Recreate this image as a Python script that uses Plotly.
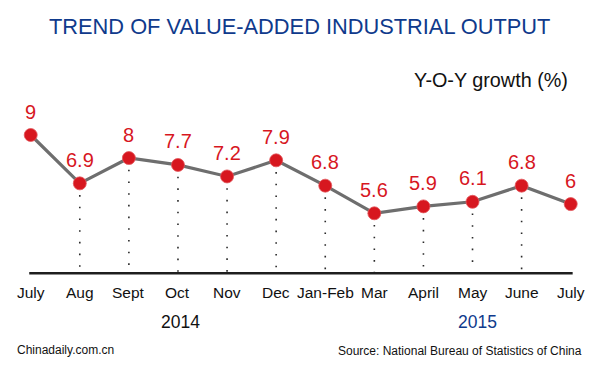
import plotly.graph_objects as go

months = ["July", "Aug", "Sept", "Oct", "Nov", "Dec", "Jan-Feb", "Mar", "April", "May", "June", "July"]
growth = [9, 6.9, 8, 7.7, 7.2, 7.9, 6.8, 5.6, 5.9, 6.1, 6.8, 6]
value_labels = ["9", "6.9", "8", "7.7", "7.2", "7.9", "6.8", "5.6", "5.9", "6.1", "6.8", "6"]
year_labels = ["2014", "2015"]
year_centers = [3.05, 9.1]
base_value = 3

# the page body has an 8px default margin: the figure starts at (8, 8) in the window
OFF = 8
W, H = 600 - OFF, 365 - OFF
FONT = "Arial, 'Liberation Sans', Helvetica, sans-serif"
RED = "#d7171f"
BLUE = "#0f3a8c"


def px_x(p):
    return (p - OFF) / W


def px_y(p):
    return 1 - (p - OFF) / H


idx = list(range(len(months)))

fig = go.Figure()

# dotted drop lines (interior points only)
dx, dy = [], []
for i in idx[1:-1]:
    dx += [i, i, None]
    dy += [growth[i], base_value, None]
fig.add_trace(go.Scatter(x=dx, y=dy, mode="lines",
                         line=dict(color="#2a2a2a", width=1.6, dash="1.6px,10.1px"),
                         hoverinfo="skip", showlegend=False))

# main line
fig.add_trace(go.Scatter(x=idx, y=growth, mode="lines",
                         line=dict(color="#6e6e6e", width=3.2),
                         hoverinfo="skip", showlegend=False))
# markers
fig.add_trace(go.Scatter(x=idx, y=growth, mode="markers",
                         marker=dict(color=RED, size=13, line=dict(color="#e2575c", width=0.8)),
                         showlegend=False))

# baseline
fig.add_shape(type="line", x0=idx[0] - 0.03, x1=idx[-1] + 0.04, y0=base_value, y1=base_value,
              xref="x", yref="y", line=dict(color="#1e1e1e", width=2.6))

annotations = []
for i, lab in zip(idx, value_labels):
    annotations.append(dict(x=i, y=growth[i], xref="x", yref="y", text=lab, showarrow=False,
                            yshift=23.5, font=dict(family=FONT, size=20, color=RED)))
for i, m in zip(idx, months):
    annotations.append(dict(x=i, y=px_y(292), xref="x", yref="paper", text=m, showarrow=False,
                            yanchor="middle", font=dict(family=FONT, size=15.5, color="#111111")))
annotations.append(dict(x=year_centers[0], y=px_y(321.5), xref="x", yref="paper", text=year_labels[0],
                        showarrow=False, yanchor="middle", font=dict(family=FONT, size=17.5, color="#111111")))
annotations.append(dict(x=year_centers[1], y=px_y(321.5), xref="x", yref="paper", text=year_labels[1],
                        showarrow=False, yanchor="middle", font=dict(family=FONT, size=17.5, color=BLUE)))
annotations.append(dict(x=px_x(299), y=px_y(26.5), xref="paper", yref="paper",
                        text="TREND OF VALUE-ADDED INDUSTRIAL OUTPUT", showarrow=False,
                        xanchor="center", yanchor="middle", font=dict(family=FONT, size=21.8, color=BLUE)))
annotations.append(dict(x=px_x(570), y=px_y(80), xref="paper", yref="paper",
                        text="Y-O-Y growth (%)", showarrow=False,
                        xanchor="right", yanchor="middle", font=dict(family=FONT, size=19.8, color="#111111")))
annotations.append(dict(x=px_x(15), y=px_y(350), xref="paper", yref="paper",
                        text="Chinadaily.com.cn", showarrow=False,
                        xanchor="left", yanchor="middle", font=dict(family=FONT, size=12, color="#111111")))
annotations.append(dict(x=px_x(584), y=px_y(351), xref="paper", yref="paper",
                        text="Source: National Bureau of Statistics of China", showarrow=False,
                        xanchor="right", yanchor="middle", font=dict(family=FONT, size=12, color="#111111")))

# pixel mapping (window pixels): index 0 -> 30.7px, index 11 -> 570.7px ; value 9 -> 135px, 5.6 -> 213.3px
x0px, xstep = 30.7 - OFF, (570.7 - 30.7) / 11
ypx9, ystep = 135.0 - OFF, (213.3 - 135.0) / (9 - 5.6)
xr = [-x0px / xstep, (W - x0px) / xstep]
yr = [9 - (H - ypx9) / ystep, 9 + ypx9 / ystep]

fig.update_layout(
    width=W, height=H,
    margin=dict(l=0, r=0, t=0, b=0),
    paper_bgcolor="white", plot_bgcolor="white",
    xaxis=dict(range=xr, visible=False, fixedrange=True),
    yaxis=dict(range=yr, visible=False, fixedrange=True),
    annotations=annotations,
    showlegend=False,
)

fig.write_html("out.html")
